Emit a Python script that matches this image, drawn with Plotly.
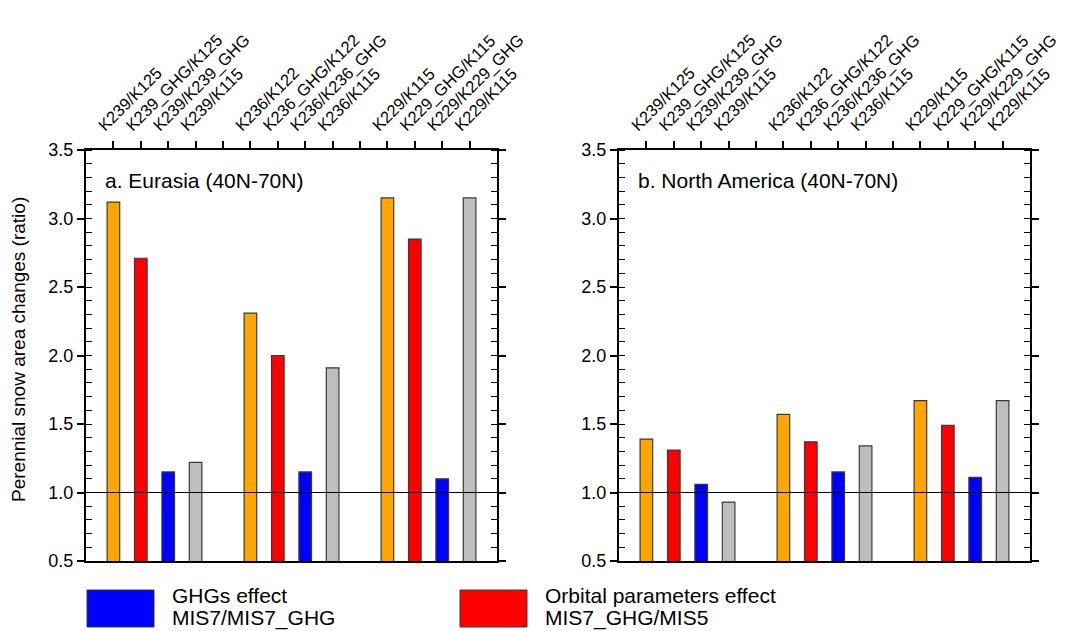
import plotly.graph_objects as go

# ---------------- data ----------------
tick_labels = [
    "K239/K125", "K239_GHG/K125", "K239/K239_GHG", "K239/K115",
    "K236/K122", "K236_GHG/K122", "K236/K236_GHG", "K236/K115",
    "K229/K115", "K229_GHG/K115", "K229/K229_GHG", "K229/K115",
]
eurasia = [3.12, 2.71, 1.15, 1.22, 2.31, 2.00, 1.15, 1.91, 3.15, 2.85, 1.10, 3.15]
north_america = [1.39, 1.31, 1.06, 0.93, 1.57, 1.37, 1.15, 1.34, 1.67, 1.49, 1.11, 1.67]
series_names = ["Total", "Orbital", "GHGs", "Total vs K115"]
series_colors = ["#FFA500", "#FF0000", "#0000FF", "#BEBEBE"]
panel_titles = ["a. Eurasia (40N-70N)", "b. North America (40N-70N)"]
y_title = "Perennial snow area changes (ratio)"
legend_items = [("GHGs effect", "MIS7/MIS7_GHG", "#0000FF"),
                ("Orbital parameters effect", "MIS7_GHG/MIS5", "#FF0000")]

n_groups, n_slots, gap = 3, 4, 1
positions = [g * (n_slots + gap) + s for g in range(n_groups) for s in range(n_slots)]
all_ticks = list(range(n_groups * (n_slots + gap) - gap))
all_text = [tick_labels[positions.index(t)] if t in positions else "" for t in all_ticks]

FONT = "Liberation Sans"
W, H = 1065, 631

fig = go.Figure()

panels = [(eurasia, "x", "y"), (north_america, "x2", "y2")]
for vals, xa, ya in panels:
    for s in range(n_slots):
        idx = [g * n_slots + s for g in range(n_groups)]
        fig.add_trace(go.Bar(
            x=[positions[i] for i in idx],
            y=[vals[i] for i in idx],
            width=0.46,
            marker=dict(color=series_colors[s], line=dict(color="#3a3a3a", width=1.2)),
            name=series_names[s], showlegend=False,
            xaxis=xa, yaxis=ya,
        ))

x_domains = [[86 / W, 497 / W], [619 / W, 1030 / W]]
y_domain = [1 - 561 / H, 1 - 150 / H]

common_x = dict(range=[-1, len(all_ticks)], side="top", tickmode="array",
                tickvals=all_ticks, ticktext=all_text, tickangle=-45,
                ticks="outside", ticklen=7, tickwidth=1.5, tickcolor="black",
                ticklabeloverflow="allow", ticklabelshift=-14,
                showline=True, linecolor="black", linewidth=2, mirror=True,
                showgrid=False, zeroline=False, automargin=False,
                tickfont=dict(family=FONT, size=16.5, color="black"))
common_y = dict(range=[0.5, 3.5], dtick=0.5, tick0=0.5, tickformat=".1f",
                ticks="outside", ticklen=7, tickwidth=1.5, tickcolor="black",
                minor=dict(dtick=0.1, ticks="inside", ticklen=6, tickwidth=1, tickcolor="black"),
                showline=True, linecolor="black", linewidth=2, mirror="ticks",
                showgrid=False, zeroline=False, automargin=False,
                tickfont=dict(family=FONT, size=18, color="black"))

fig.update_layout(
    xaxis=dict(domain=x_domains[0], anchor="y", **common_x),
    yaxis=dict(domain=y_domain, anchor="x", **common_y),
    xaxis2=dict(domain=x_domains[1], anchor="y2", **common_x),
    yaxis2=dict(domain=y_domain, anchor="x2", **common_y),
    width=W, height=H, autosize=False,
    margin=dict(l=0, r=0, t=0, b=0),
    plot_bgcolor="white", paper_bgcolor="white",
    barmode="overlay", showlegend=False,
    font=dict(family=FONT, color="black"),
)

# reference line at 1.0
for xa, ya in [("x", "y"), ("x2", "y2")]:
    fig.add_shape(type="line", xref=f"{xa} domain", yref=ya, x0=0, x1=1, y0=1.0, y1=1.0,
                  line=dict(color="black", width=1))

# panel titles
for (xa, ya), t in zip([("x", "y"), ("x2", "y2")], panel_titles):
    fig.add_annotation(text=t, xref=f"{xa} domain", yref=f"{ya} domain", x=0.042, y=0.925,
                       xanchor="left", yanchor="middle", showarrow=False,
                       font=dict(family=FONT, size=21, color="black"))

# y axis title
fig.add_annotation(text=y_title, xref="paper", yref="paper", x=18 / W, y=1 - 350 / H,
                   textangle=-90, showarrow=False, xanchor="center", yanchor="middle",
                   font=dict(family=FONT, size=19, color="black"))

# legend boxes
box_x = [87, 460]
for (l1, l2, col), bx in zip(legend_items, box_x):
    fig.add_shape(type="rect", xref="paper", yref="paper",
                  x0=bx / W, x1=(bx + 67) / W, y0=1 - 627 / H, y1=1 - 590 / H,
                  fillcolor=col, line=dict(color="#3a3a3a", width=1))
    for txt, yy in [(l1, 595.5), (l2, 618)]:
        fig.add_annotation(text=txt, xref="paper", yref="paper", x=(bx + 84) / W, y=1 - yy / H,
                           xanchor="left", yanchor="middle", showarrow=False, borderpad=0,
                           font=dict(family=FONT, size=21, color="black"))

fig.write_html("out.html")
